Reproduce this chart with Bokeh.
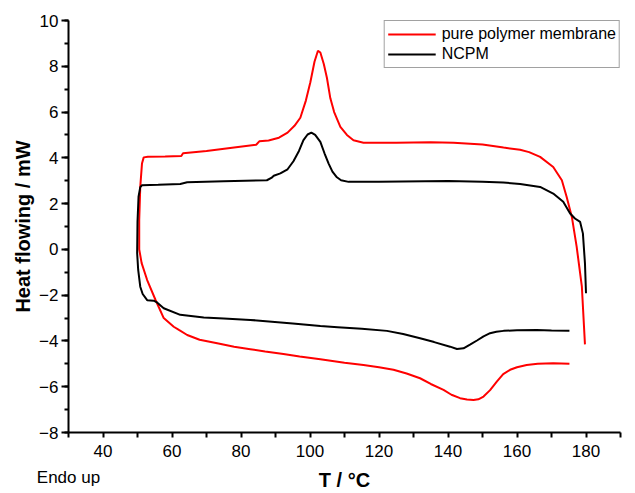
from bokeh.plotting import figure
from bokeh.models import FixedTicker, SingleIntervalTicker, Legend, LegendItem, Range1d
from bokeh.embed import file_html
from bokeh.resources import INLINE

# Data (temperature in degC, heat flow in mW)
pure_t = [175.2, 170.5, 166.0, 162.8, 160.0, 158.0, 156.0, 154.2, 152.2, 150.3,
          148.8, 147.4, 145.5, 143.5, 141.0, 138.7, 135.0, 131.9, 128.0, 124.2,
          120.0, 115.5, 110.0, 103.0, 97.0, 92.3, 87.0, 82.7, 78.0, 73.1,
          68.0, 64.4, 62.0, 60.5, 57.6, 55.2, 52.8, 51.2, 50.5, 50.5,
          50.8, 51.3, 51.8, 53.0, 58.0, 62.7, 63.2, 70.0, 78.0, 84.4,
          85.3, 88.0, 91.0, 93.5, 95.5, 97.2, 98.8, 100.1, 101.3, 102.3,
          103.0, 104.0, 104.9, 105.9, 107.0, 108.8, 110.7, 112.6, 115.5, 125.0,
          135.0, 141.6, 150.0, 156.1, 160.9, 163.5, 166.7, 170.5, 173.0, 174.4,
          175.9, 177.3, 178.8, 179.7]
pure_hf = [-5.00, -4.97, -5.00, -5.05, -5.15, -5.26, -5.45, -5.77, -6.15, -6.43,
           -6.55, -6.58, -6.56, -6.50, -6.35, -6.14, -5.88, -5.63, -5.42, -5.26,
           -5.15, -5.05, -4.95, -4.80, -4.68, -4.57, -4.46, -4.36, -4.25, -4.10,
           -3.95, -3.74, -3.52, -3.38, -3.00, -2.20, -1.34, -0.60, 0.00, 1.28,
           2.73, 3.75, 4.02, 4.05, 4.06, 4.08, 4.20, 4.30, 4.45, 4.57,
           4.72, 4.76, 4.88, 5.10, 5.40, 5.75, 6.50, 7.30, 8.20, 8.68,
           8.60, 8.10, 7.50, 6.60, 6.00, 5.35, 5.00, 4.77, 4.66, 4.66,
           4.68, 4.66, 4.58, 4.45, 4.35, 4.25, 4.04, 3.60, 3.02, 2.29,
           1.42, 0.11, -1.63, -4.15]

ncpm_t = [175.2, 170.0, 165.7, 160.0, 156.1, 154.0, 152.2, 150.3, 148.4, 146.5,
          144.5, 142.6, 140.6, 136.0, 131.9, 127.0, 122.3, 115.0, 108.0, 103.0,
          95.0, 82.7, 75.0, 69.2, 62.4, 57.6, 55.5, 54.7, 52.8, 51.5,
          50.8, 50.2, 49.9, 50.0, 50.3, 50.8, 51.3, 56.0, 62.4, 64.4,
          75.0, 87.5, 88.8, 89.5, 91.4, 93.5, 95.2, 96.8, 98.1, 99.3,
          100.4, 101.5, 103.0, 104.2, 105.4, 106.5, 107.8, 109.0, 111.2, 120.0,
          140.0, 150.0, 156.0, 160.9, 166.7, 170.5, 173.4, 175.4, 176.8, 178.3,
          179.1, 179.7, 180.0]
ncpm_hf = [-3.56, -3.54, -3.52, -3.53, -3.56, -3.60, -3.66, -3.80, -3.98, -4.15,
           -4.32, -4.35, -4.25, -4.05, -3.88, -3.70, -3.56, -3.47, -3.40, -3.35,
           -3.24, -3.08, -3.02, -2.98, -2.86, -2.57, -2.30, -2.24, -2.22, -1.95,
           -1.63, -0.90, -0.17, 1.20, 2.30, 2.72, 2.80, 2.82, 2.86, 2.93,
           2.98, 3.02, 3.12, 3.22, 3.32, 3.50, 3.85, 4.30, 4.77, 5.02,
           5.10, 5.00, 4.70, 4.20, 3.75, 3.40, 3.15, 3.02, 2.95, 2.96,
           2.99, 2.96, 2.92, 2.86, 2.73, 2.44, 2.08, 1.57, 1.35, 1.20,
           0.70, -0.61, -1.92]

series_names = ["pure polymer membrane", "NCPM"]
x_ticks = [30, 40, 60, 80, 100, 120, 140, 160, 180]
x_minor_ticks = [50, 70, 90, 110, 130, 150, 170, 190]
x_label = "T / \u00b0C"
y_label = "Heat flowing / mW"
note_text = "Endo up"   # shown under the axis corner (below the 30 position)

FONT = "Liberation Sans"

p = figure(width=635, height=493, output_backend="svg", toolbar_location=None,
           x_range=Range1d(30, 190), y_range=Range1d(-8, 10),
           min_border_left=68, min_border_right=15, min_border_top=20,
           min_border_bottom=60)
p.outline_line_color = None
p.grid.visible = False
p.background_fill_color = "white"
p.border_fill_color = "white"

r1 = p.line(pure_t, pure_hf, line_color="#ff0000", line_width=2)
r2 = p.line(ncpm_t, ncpm_hf, line_color="#000000", line_width=2)

xa = p.xaxis[0]
xa.ticker = FixedTicker(ticks=x_ticks, minor_ticks=x_minor_ticks)
xa.major_label_overrides = {x_ticks[0]: "\n" + note_text}
ya = p.yaxis[0]
ya.ticker = SingleIntervalTicker(interval=2, num_minor_ticks=2)

for ax in (xa, ya):
    ax.axis_line_color = "black"
    ax.axis_line_width = 2
    ax.major_tick_line_color = "black"
    ax.major_tick_line_width = 2
    ax.minor_tick_line_color = "black"
    ax.minor_tick_line_width = 2
    ax.major_tick_in = 0
    ax.minor_tick_in = 0
    ax.major_label_text_font = FONT
    ax.major_label_text_font_size = "17px"
    ax.major_label_text_color = "black"
    ax.axis_label_text_font = FONT
    ax.axis_label_text_font_size = "20px"
    ax.axis_label_text_font_style = "bold"
    ax.axis_label_text_color = "black"

xa.major_tick_out = 5
xa.minor_tick_out = 5
xa.major_label_standoff = 4
xa.major_label_text_line_height = 1.37
xa.axis_label_standoff = -21
xa.axis_label = x_label

ya.major_tick_out = 7
ya.minor_tick_out = 4
ya.major_label_standoff = 3
ya.axis_label_standoff = 2
ya.axis_label = y_label

legend = Legend(items=[LegendItem(label=series_names[0], renderers=[r1]),
                       LegendItem(label=series_names[1], renderers=[r2])],
                location="top_right")
legend.label_text_font = FONT
legend.label_text_font_size = "16px"
legend.label_text_color = "black"
legend.glyph_width = 48
legend.glyph_height = 20
legend.label_height = 20
legend.label_width = 174
legend.label_standoff = 6
legend.padding = 3
legend.spacing = 0
legend.margin = 0
legend.border_line_color = "#444444"
legend.border_line_width = 1
legend.background_fill_alpha = 1.0
p.add_layout(legend, "center")

open("out.html", "w").write(file_html(p, INLINE))
